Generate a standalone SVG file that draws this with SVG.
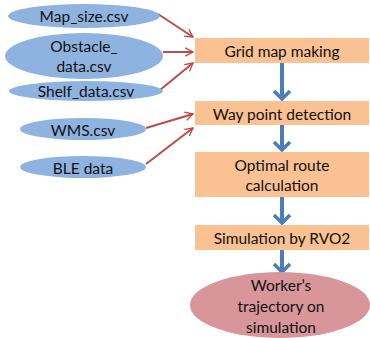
<svg xmlns="http://www.w3.org/2000/svg" width="370" height="338" viewBox="0 0 370 338">
<defs>
<style>
.src{fill:#8fb3e0}
.box{fill:#fac192}
.t{font-family:Lato,"Open Sans","Liberation Sans",sans-serif;font-size:15.5px;fill:#111;text-anchor:middle;dominant-baseline:central}
.red{stroke:#be4b48;stroke-width:2;fill:none}
.blue{stroke:#4a7ebb;stroke-width:4;fill:none}
</style>
<marker id="ra" viewBox="0 0 10 10" refX="9" refY="5" markerWidth="6" markerHeight="6" markerUnits="userSpaceOnUse" orient="auto" overflow="visible">
<path d="M-4,-2 L9,5 L-4,12" fill="none" stroke="#be4b48" stroke-width="2.2"/>
</marker>
<marker id="ba" viewBox="0 0 10 10" refX="5" refY="9" markerWidth="10" markerHeight="10" markerUnits="userSpaceOnUse" orient="0" overflow="visible">
<path d="M-3,1 L5,9 L13,1" fill="none" stroke="#4a7ebb" stroke-width="3.5"/>
</marker>
</defs>
<rect width="370" height="338" fill="#fff"/>
<g id="connectors">
<line class="red" x1="158" y1="14" x2="193" y2="37" marker-end="url(#ra)"/>
<line class="red" x1="163" y1="52" x2="193" y2="52" marker-end="url(#ra)"/>
<line class="red" x1="160" y1="90" x2="193" y2="63" marker-end="url(#ra)"/>
<line class="red" x1="146" y1="128" x2="193" y2="114" marker-end="url(#ra)"/>
<line class="red" x1="146" y1="164" x2="193" y2="128" marker-end="url(#ra)"/>
<line class="blue" x1="282" y1="63" x2="282" y2="99" marker-end="url(#ba)"/>
<line class="blue" x1="282" y1="125" x2="282" y2="150" marker-end="url(#ba)"/>
<line class="blue" x1="282" y1="197" x2="282" y2="223" marker-end="url(#ba)"/>
<line class="blue" x1="282" y1="250" x2="282" y2="272" marker-end="url(#ba)"/>
</g>
<g id="map_size"><ellipse class="src" cx="84" cy="16" rx="76" ry="12"/><text class="t" x="84" y="16">Map_size.csv</text></g>
<g id="obstacle"><ellipse class="src" cx="84" cy="56" rx="79" ry="23"/><text class="t" x="84" y="46">Obstacle_</text><text class="t" x="84" y="66">data.csv</text></g>
<g id="shelf"><ellipse class="src" cx="86" cy="91" rx="77" ry="10"/><text class="t" x="86" y="91">Shelf_data.csv</text></g>
<g id="wms"><ellipse class="src" cx="83" cy="129" rx="63" ry="11"/><text class="t" x="83" y="130">WMS.csv</text></g>
<g id="ble"><ellipse class="src" cx="83" cy="167" rx="63" ry="11"/><text class="t" x="83" y="168">BLE data</text></g>
<g id="grid"><rect class="box" x="195" y="38" width="174" height="25"/><text class="t" x="282" y="51">Grid map making</text></g>
<g id="waypoint"><rect class="box" x="195" y="101" width="174" height="24"/><text class="t" x="282" y="114">Way point detection</text></g>
<g id="optimal"><rect class="box" x="195" y="152" width="174" height="45"/><text class="t" x="282" y="165">Optimal route</text><text class="t" x="282" y="185">calculation</text></g>
<g id="sim"><rect class="box" x="195" y="225" width="174" height="25"/><text class="t" x="282" y="238">Simulation by RVO2</text></g>
<g id="worker"><ellipse cx="280" cy="305" rx="90" ry="33" fill="#d8969a"/><text class="t" x="281" y="285">Worker’s</text><text class="t" x="281" y="306">trajectory on</text><text class="t" x="281" y="327">simulation</text></g>
</svg>
